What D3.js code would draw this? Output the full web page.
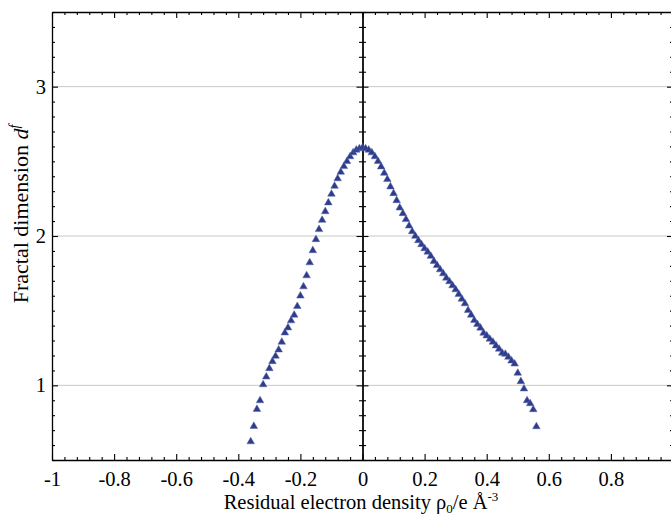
<!DOCTYPE html>
<html>
<head>
<meta charset="utf-8">
<script src="https://cdn.jsdelivr.net/npm/d3@7"></script>
<style>
  html, body { margin: 0; padding: 0; background: #fff; }
  svg { display: block; }
  text { font-family: "Liberation Serif", "Times New Roman", serif; }
</style>
</head>
<body>
<svg id="chart" width="671" height="517"></svg>
<script>
// ---- Data ----
const rhoLeft = [-0.36,-0.35,-0.34,-0.33,-0.32,-0.31,-0.30,-0.29,-0.28,-0.27,-0.26,-0.25,-0.24,-0.23,-0.22,-0.21,-0.20,-0.19,-0.18,-0.17,-0.16,-0.15,-0.14,-0.13,-0.12,-0.11,-0.10,-0.09,-0.08,-0.07,-0.06,-0.05,-0.04,-0.03,-0.02,-0.01,0.00];
const dfLeft  = [0.623,0.726,0.840,0.898,1.005,1.057,1.113,1.160,1.196,1.238,1.290,1.352,1.386,1.433,1.471,1.529,1.599,1.661,1.735,1.822,1.903,1.977,2.044,2.106,2.164,2.223,2.281,2.334,2.384,2.428,2.466,2.500,2.532,2.558,2.576,2.585,2.592];
const rhoRight = [0.01,0.02,0.03,0.04,0.05,0.06,0.07,0.08,0.09,0.10,0.11,0.12,0.13,0.14,0.15,0.16,0.17,0.18,0.19,0.20,0.21,0.22,0.23,0.24,0.25,0.26,0.27,0.28,0.29,0.30,0.31,0.32,0.33,0.34,0.35,0.36,0.37,0.38,0.39,0.40,0.41,0.42,0.43,0.44,0.45,0.46,0.47,0.48,0.49,0.50,0.51,0.52,0.53,0.54,0.55,0.56];
const dfRight  = [2.585,2.576,2.558,2.532,2.500,2.464,2.421,2.379,2.330,2.285,2.238,2.189,2.151,2.111,2.068,2.030,1.999,1.970,1.943,1.916,1.893,1.865,1.831,1.804,1.775,1.748,1.719,1.695,1.668,1.641,1.610,1.578,1.547,1.502,1.471,1.435,1.408,1.384,1.350,1.332,1.310,1.290,1.265,1.243,1.216,1.209,1.189,1.164,1.144,1.082,1.026,0.977,0.898,0.878,0.838,0.724];

const xMajorTicks = [-1,-0.8,-0.6,-0.4,-0.2,0,0.2,0.4,0.6,0.8,1];
const xTickLabels = ["-1","-0.8","-0.6","-0.4","-0.2","0","0.2","0.4","0.6","0.8",""];
const yMajorTicks = [1,2,3];
const yTickLabels = ["1","2","3"];
const xDomain = [-1, 1];
const yDomain = [0.5, 3.5];

const points = rhoLeft.map((r,i)=>({x:r, y:dfLeft[i]}))
  .concat(rhoRight.map((r,i)=>({x:r, y:dfRight[i]})));

// ---- Layout ----
const svg = d3.select("#chart");
const mLeft = 52, mRight = 673, mTop = 12, mBottom = 460;

const x = d3.scaleLinear().domain(xDomain).range([mLeft, mRight]);
const y = d3.scaleLinear().domain(yDomain).range([mBottom, mTop]);

const xMinor = d3.range(-1, 1.0001, 0.04).map(v => +v.toFixed(2)).filter(v => !xMajorTicks.some(m => Math.abs(m - v) < 1e-6));
const yMinor = d3.range(0.5, 3.5001, 0.1).map(v => +v.toFixed(1)).filter(v => !yMajorTicks.some(m => Math.abs(m - v) < 1e-6));

// gridlines
svg.append("g").selectAll("line").data(yMajorTicks).join("line")
  .attr("x1", x(-1)).attr("x2", x(1))
  .attr("y1", d => y(d)).attr("y2", d => y(d))
  .attr("stroke", "#c8c8c8").attr("stroke-width", 1);

function styleAxis(g) {
  g.select(".domain").attr("stroke", "#000").attr("stroke-width", 1.3);
  g.selectAll(".tick line").attr("stroke", "#000").attr("stroke-width", 1.1);
  g.selectAll(".tick text").attr("font-size", 20.5).attr("fill", "#000")
    .style("font-family", "'Liberation Serif','Times New Roman',serif");
}

// bottom axis major with labels
const gB = svg.append("g").attr("transform", `translate(0,${mBottom})`)
  .call(d3.axisBottom(x).tickValues(xMajorTicks).tickSizeInner(-6).tickSizeOuter(0)
    .tickPadding(11).tickFormat((d,i) => xTickLabels[i]));
styleAxis(gB);
const gBm = svg.append("g").attr("transform", `translate(0,${mBottom})`)
  .call(d3.axisBottom(x).tickValues(xMinor).tickSizeInner(-3).tickSizeOuter(0).tickFormat(""));
styleAxis(gBm); gBm.select(".domain").remove();

// top axis
const gT = svg.append("g").attr("transform", `translate(0,${mTop})`)
  .call(d3.axisTop(x).tickValues(xMajorTicks).tickSizeInner(-6).tickSizeOuter(0).tickFormat(""));
styleAxis(gT);
const gTm = svg.append("g").attr("transform", `translate(0,${mTop})`)
  .call(d3.axisTop(x).tickValues(xMinor).tickSizeInner(-3).tickSizeOuter(0).tickFormat(""));
styleAxis(gTm); gTm.select(".domain").remove();

// left axis
const gL = svg.append("g").attr("transform", `translate(${mLeft},0)`)
  .call(d3.axisLeft(y).tickValues(yMajorTicks).tickSizeInner(-6).tickSizeOuter(0)
    .tickPadding(6).tickFormat((d,i) => yTickLabels[i]));
styleAxis(gL);
const gLm = svg.append("g").attr("transform", `translate(${mLeft},0)`)
  .call(d3.axisLeft(y).tickValues(yMinor).tickSizeInner(-3).tickSizeOuter(0).tickFormat(""));
styleAxis(gLm); gLm.select(".domain").remove();

// right axis
const gR = svg.append("g").attr("transform", `translate(${mRight},0)`)
  .call(d3.axisRight(y).tickValues(yMajorTicks).tickSizeInner(-6).tickSizeOuter(0).tickFormat(""));
styleAxis(gR);
const gRm = svg.append("g").attr("transform", `translate(${mRight},0)`)
  .call(d3.axisRight(y).tickValues(yMinor).tickSizeInner(-3).tickSizeOuter(0).tickFormat(""));
styleAxis(gRm); gRm.select(".domain").remove();

// center axis at x = 0 with crossing ticks
const cx = x(0);
[d3.axisLeft, d3.axisRight].forEach(ax => {
  const gc = svg.append("g").attr("transform", `translate(${cx},0)`)
    .call(ax(y).tickValues(yMajorTicks).tickSizeInner(6).tickSizeOuter(0).tickFormat(""));
  styleAxis(gc);
  const gcm = svg.append("g").attr("transform", `translate(${cx},0)`)
    .call(ax(y).tickValues(yMinor).tickSizeInner(3.5).tickSizeOuter(0).tickFormat(""));
  styleAxis(gcm); gcm.select(".domain").remove();
});

// markers
const tri = d3.symbol().type(d3.symbolTriangle).size(25);
svg.append("g").selectAll("path").data(points).join("path")
  .attr("d", tri)
  .attr("transform", d => `translate(${x(d.x)},${y(d.y)})`)
  .attr("fill", "#2e3c8c")
  .attr("stroke", "#5a67a8")
  .attr("stroke-width", 0.5);

// axis titles
const xt = svg.append("text")
  .attr("x", 361).attr("y", 509)
  .attr("text-anchor", "middle").attr("font-size", 20.5).attr("fill", "#000");
xt.append("tspan").text("Residual electron density ρ");
xt.append("tspan").attr("font-size", 13).attr("dy", 3.5).text("0");
xt.append("tspan").attr("dy", -3.5).text("/e Å");
xt.append("tspan").attr("font-size", 13).attr("dy", -8).text("-3");

const yt = svg.append("text")
  .attr("transform", `translate(28,${214}) rotate(-90)`)
  .attr("text-anchor", "middle").attr("font-size", 22).attr("fill", "#000");
yt.append("tspan").text("Fractal dimension ");
yt.append("tspan").attr("font-style", "italic").text("d");
yt.append("tspan").attr("font-style", "italic").attr("font-size", 14).attr("dy", -9).text("f");
</script>
</body>
</html>
